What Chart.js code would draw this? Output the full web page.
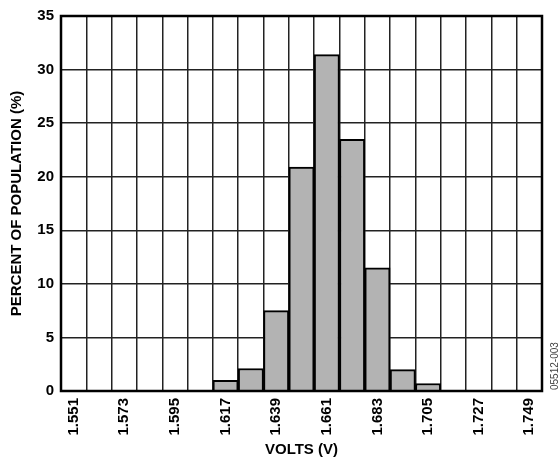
<!DOCTYPE html>
<html>
<head>
<meta charset="utf-8">
<script src="https://cdn.jsdelivr.net/npm/chart.js@4"></script>
<style>
  html, body { margin: 0; padding: 0; background: #fff; }
  #wrap { width: 558px; height: 464px; }
</style>
</head>
<body>
<div id="wrap"><canvas id="histChart" width="558" height="464"></canvas></div>
<script>
// Output voltage bins (V), 11 mV steps
const voltBins = ['1.551', '1.562', '1.573', '1.584', '1.595', '1.606', '1.617', '1.628', '1.639', '1.650',
                  '1.661', '1.672', '1.683', '1.694', '1.705', '1.716', '1.727', '1.738', '1.749'];
// Percent of population per bin
const percent = [0, 0, 0, 0, 0, 0, 1.0, 2.1, 7.5, 20.9, 31.4, 23.5, 11.5, 2.0, 0.7, 0, 0, 0, 0];
const yTicks = [0, 5, 10, 15, 20, 25, 30, 35];

const FONT = 'Arial, "Liberation Sans", Helvetica, sans-serif';

// heavy frame round the plot + figure id on the right
const framePlugin = {
  id: 'frame',
  afterDraw(chart) {
    const { ctx, chartArea: a } = chart;
    ctx.save();
    ctx.strokeStyle = '#000';
    ctx.lineWidth = 2.5;
    ctx.strokeRect(a.left, a.top, a.right - a.left, a.bottom - a.top);
    ctx.translate(555, 390);
    ctx.rotate(-Math.PI / 2);
    ctx.font = '10px ' + FONT;
    ctx.fillStyle = '#444';
    ctx.textAlign = 'left';
    ctx.textBaseline = 'middle';
    ctx.fillText('05512-003', 0, 0);
    ctx.restore();
  }
};

new Chart(document.getElementById('histChart').getContext('2d'), {
  type: 'bar',
  data: {
    labels: voltBins,
    datasets: [{
      data: percent,
      backgroundColor: '#b3b3b3',
      borderColor: '#000',
      borderWidth: 2,
      barPercentage: 1,
      categoryPercentage: 1
    }]
  },
  options: {
    responsive: false,
    animation: false,
    layout: { padding: { top: 8, right: 16, left: 0, bottom: 0 } },
    plugins: { legend: { display: false }, tooltip: { enabled: false } },
    scales: {
      x: {
        grid: { offset: true, color: '#222', lineWidth: 1.5, drawTicks: false },
        border: { display: false },
        ticks: {
          autoSkip: false,
          maxRotation: 90,
          minRotation: 90,
          padding: 7,
          color: '#000',
          font: { family: FONT, size: 15, weight: 'bold' },
          callback: (v, i) => (i % 2 === 0 ? voltBins[i] : '')
        },
        title: {
          display: true,
          text: 'VOLTS (V)',
          color: '#000',
          font: { family: FONT, size: 15, weight: 'bold' },
          padding: { top: 0, bottom: 5 }
        },
        afterFit: (s) => { s.height = 73; }
      },
      y: {
        min: 0,
        max: 35,
        afterBuildTicks: (s) => { s.ticks = yTicks.map(v => ({ value: v })); },
        grid: { color: '#222', lineWidth: 1.5, drawTicks: false },
        border: { display: false },
        ticks: {
          padding: 7,
          color: '#000',
          font: { family: FONT, size: 15, weight: 'bold' }
        },
        title: {
          display: true,
          text: 'PERCENT OF POPULATION (%)',
          color: '#000',
          font: { family: FONT, size: 15, weight: 'bold' },
          padding: { top: 8, bottom: 0 }
        },
        afterFit: (s) => { s.width = 61; }
      }
    }
  },
  plugins: [framePlugin]
});
</script>
</body>
</html>
